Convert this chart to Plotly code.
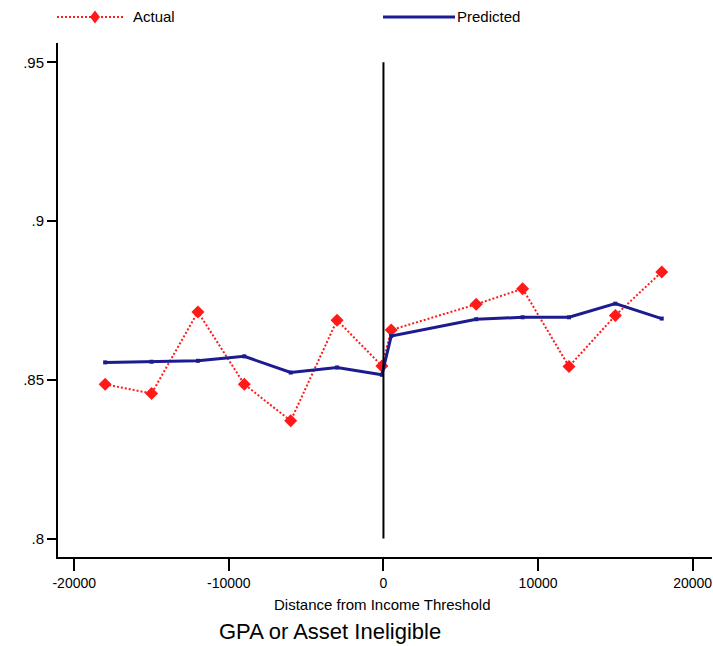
import plotly.graph_objects as go

# Binned distance from the income threshold (dollars)
distance = [-18000, -15000, -12000, -9000, -6000, -3000, -100,
            500, 6000, 9000, 12000, 15000, 18000]

# Share observed vs. model prediction in each bin
actual = [0.8486, 0.8457, 0.8714, 0.8486, 0.8371, 0.8688, 0.8544,
          0.8657, 0.8738, 0.8787, 0.8542, 0.8703, 0.8840]
predicted = [0.8555, 0.8557, 0.8560, 0.8574, 0.8523, 0.8539, 0.8516,
             0.8638, 0.8691, 0.8697, 0.8697, 0.8740, 0.8693]

x_ticks = [-20000, -10000, 0, 10000, 20000]
x_tick_text = ["-20000", "-10000", "0", "10000", "20000"]
y_ticks = [0.80, 0.85, 0.90, 0.95]
y_tick_text = [".8", ".85", ".9", ".95"]

threshold = 0
threshold_span = [0.80, 0.95]

RED = "#ff1a1a"
BLUE = "#1c1c8f"
FONT = "Liberation Sans, Arial, sans-serif"

W, H = 713, 646
L, R, T, B = 58, 1, 43, 89


def px(x):
    return (x - L) / (W - L - R)


def py(y):
    return (H - B - y) / (H - T - B)


fig = go.Figure()

fig.add_trace(go.Scatter(
    x=distance, y=actual, mode="lines+markers", name="Actual",
    line=dict(color=RED, width=2, dash="2px,2px"),
    marker=dict(symbol="diamond", size=10, color=RED),
    showlegend=False,
))
fig.add_trace(go.Scatter(
    x=distance, y=predicted, mode="lines+markers", name="Predicted",
    line=dict(color=BLUE, width=3),
    marker=dict(symbol="square", size=4, color=BLUE),
    showlegend=False,
))

# Threshold line
fig.add_shape(type="line", xref="x", yref="y",
              x0=threshold, x1=threshold,
              y0=threshold_span[0], y1=threshold_span[1],
              line=dict(color="black", width=2))

# Key above the plot
ly = 17
fig.add_shape(type="line", xref="paper", yref="paper",
              x0=px(57), x1=px(125), y0=py(ly), y1=py(ly),
              line=dict(color=RED, width=2, dash="2px,2px"))
dx, dy = 5, 6.5
cx = 95
fig.add_shape(type="path", xref="paper", yref="paper",
              path=(f"M {px(cx - dx)},{py(ly)} L {px(cx)},{py(ly - dy)} "
                    f"L {px(cx + dx)},{py(ly)} L {px(cx)},{py(ly + dy)} Z"),
              fillcolor=RED, line=dict(color=RED, width=0))
fig.add_annotation(x=px(131), y=py(ly), xref="paper", yref="paper",
                   text="Actual", showarrow=False, xanchor="left",
                   yanchor="middle", font=dict(family=FONT, size=15, color="black"))
fig.add_shape(type="line", xref="paper", yref="paper",
              x0=px(383), x1=px(455), y0=py(ly), y1=py(ly),
              line=dict(color=BLUE, width=3))
fig.add_annotation(x=px(455), y=py(ly), xref="paper", yref="paper",
                   text="Predicted", showarrow=False, xanchor="left",
                   yanchor="middle", font=dict(family=FONT, size=15, color="black"))

# Axis title and caption
fig.add_annotation(x=px(382), y=py(604), xref="paper", yref="paper",
                   text="Distance from Income Threshold", showarrow=False,
                   xanchor="center", yanchor="middle",
                   font=dict(family=FONT, size=15, color="black"))
fig.add_annotation(x=px(330), y=py(631), xref="paper", yref="paper",
                   text="GPA or Asset Ineligible", showarrow=False,
                   xanchor="center", yanchor="middle",
                   font=dict(family=FONT, size=22, color="black"))

fig.update_xaxes(
    range=[-21050, 21250], tickvals=x_ticks, ticktext=x_tick_text,
    showgrid=False, zeroline=False,
    showline=True, linecolor="black", linewidth=2,
    ticks="outside", ticklen=12, tickwidth=2, tickcolor="black",
    tickfont=dict(family=FONT, size=14, color="black"),
)
fig.update_yaxes(
    range=[0.7942, 0.9561], tickvals=y_ticks, ticktext=y_tick_text,
    showgrid=False, zeroline=False,
    showline=True, linecolor="black", linewidth=2,
    ticks="outside", ticklen=9, tickwidth=2, tickcolor="black",
    tickfont=dict(family=FONT, size=15, color="black"),
)

fig.update_layout(
    width=W, height=H,
    margin=dict(l=L, r=R, t=T, b=B),
    plot_bgcolor="white", paper_bgcolor="white",
    showlegend=False,
)

fig.write_html("out.html")
